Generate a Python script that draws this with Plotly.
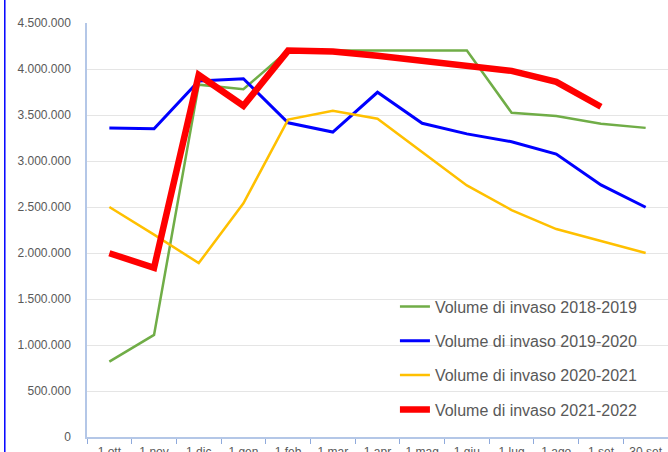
import plotly.graph_objects as go

categories = ["1 ott", "1 nov", "1 dic", "1 gen", "1 feb", "1 mar", "1 apr",
              "1 mag", "1 giu", "1 lug", "1 ago", "1 set", "30 set"]

vol_2018_2019 = [820000, 1110000, 3830000, 3780000, 4200000, 4200000, 4200000,
                 4200000, 4200000, 3525000, 3490000, 3405000, 3360000]
vol_2019_2020 = [3360000, 3350000, 3870000, 3895000, 3415000, 3315000, 3747000,
                 3410000, 3295000, 3210000, 3076000, 2740000, 2497000]
vol_2020_2021 = [2500000, 2200000, 1890000, 2540000, 3450000, 3545000, 3460000,
                 3100000, 2735000, 2467000, 2260000, 2130000, 2000000]
vol_2021_2022 = [1997000, 1840000, 3935000, 3600000, 4200000, 4190000, 4145000,
                 4095000, 4040000, 3980000, 3860000, 3590000, None]

series_names = ["Volume di invaso 2018-2019", "Volume di invaso 2019-2020",
                "Volume di invaso 2020-2021", "Volume di invaso 2021-2022"]
series_values = [vol_2018_2019, vol_2019_2020, vol_2020_2021, vol_2021_2022]
colors = ["#70AD47", "#0000FF", "#FFC000", "#FF0000"]
widths = [2.5, 3, 2.5, 6.5]

y_ticks = [0, 500000, 1000000, 1500000, 2000000, 2500000, 3000000, 3500000, 4000000, 4500000]

fig = go.Figure()
for name, vals, col, w in zip(series_names, series_values, colors, widths):
    fig.add_trace(go.Scatter(
        x=categories, y=vals, name=name, mode="lines",
        line=dict(color=col, width=w), legendgroup=name,
        connectgaps=False,
    ))

fig.update_layout(
    width=668, height=452,
    margin=dict(l=87, r=0, t=23, b=15, autoexpand=False),
    paper_bgcolor="white", plot_bgcolor="white",
    separators=",.",
    font=dict(family="Liberation Sans, Arial, sans-serif", color="#595959", size=12),
    showlegend=True,
    legend=dict(
        x=0.53, y=0.356, xanchor="left", yanchor="top",
        bgcolor="rgba(0,0,0,0)", borderwidth=0,
        font=dict(size=16, color="#595959"),
        tracegroupgap=10.5, itemwidth=30,
        traceorder="grouped",
    ),
    shapes=[dict(type="line", xref="paper", yref="paper",
                 x0=-0.1415, x1=-0.1415, y0=-0.05, y1=1.06,
                 line=dict(color="#0000FF", width=1.5))],
)

fig.update_xaxes(
    type="category", tickson="boundaries", automargin=False,
    showgrid=False, showline=True, linecolor="#B4C7E7", linewidth=1.5,
    ticks="outside", ticklen=5, tickcolor="#8FAADC",
    tickfont=dict(size=12, color="#595959"), ticklabelstandoff=3,
    range=[-0.5, 12.5],
)
fig.update_yaxes(
    range=[0, 4500000], tickvals=y_ticks, tickformat=",d", automargin=False,
    showgrid=True, gridcolor="#E5E5E5", gridwidth=1,
    showline=True, linecolor="#B4C7E7", linewidth=1.5,
    ticks="", zeroline=False, ticklabelstandoff=12,
    tickfont=dict(size=12, color="#595959"),
)

fig.write_html("out.html", config={"displayModeBar": False},
               post_script="document.body.style.margin='0';")
